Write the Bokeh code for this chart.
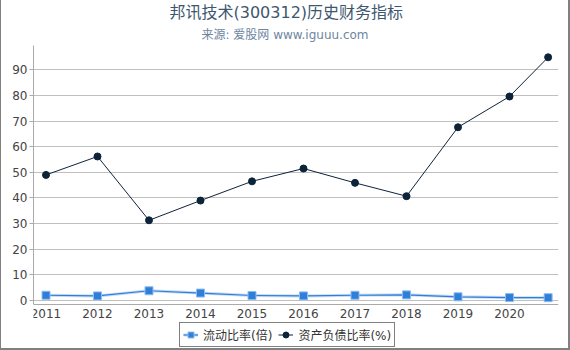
from bokeh.plotting import figure
from bokeh.models import Range1d, Legend, LegendItem, Title, FixedTicker
from bokeh.embed import file_html
from bokeh.resources import INLINE

years = [2011, 2012, 2013, 2014, 2015, 2016, 2017, 2018, 2019, 2020, 2020.75]
current_ratio = [2.05, 1.8, 3.8, 2.9, 1.95, 1.8, 2.05, 2.2, 1.45, 1.15, 1.1]
debt_ratio = [49.0, 56.2, 31.3, 39.0, 46.5, 51.5, 45.9, 40.7, 67.6, 79.6, 94.9]
x_ticks = [2011, 2012, 2013, 2014, 2015, 2016, 2017, 2018, 2019, 2020]
y_ticks = [0, 10, 20, 30, 40, 50, 60, 70, 80, 90]
title_text = "邦讯技术(300312)历史财务指标"
subtitle_text = "来源: 爱股网 www.iguuu.com"
series_names = ["流动比率(倍)", "资产负债比率(%)"]

FONT = "DejaVu Sans, Noto Sans CJK SC"

Y_BOTTOM = -1.56      # value at the x-axis line
Y_TOP = 99.5
PX_PER_UNIT = 2.563
Y_START = Y_BOTTOM - 44 / PX_PER_UNIT   # room below the axis for labels + legend

p = figure(frame_width=525, frame_height=303, output_backend="svg", toolbar_location=None,
           title=None,
           x_range=Range1d(2011 - 12.5 / 51.5, 2011 + 512.5 / 51.5),
           y_range=Range1d(Y_START, Y_TOP),
           min_border_left=32, min_border_right=10, min_border_top=0,
           min_border_bottom=0)
p.styles = {"border-left": "1px solid #808080", "border-right": "2px solid #808080",
            "border-bottom": "2px solid #808080"}
p.outline_line_color = None
p.background_fill_color = "white"
p.border_fill_color = "white"

sub = Title(text=subtitle_text, align="left", offset=168, text_font_size="12px",
            text_color="#6D869F", text_font=FONT, text_font_style="normal",
            standoff=8)
main = Title(text=title_text, align="left", offset=136, text_font_size="16px",
             text_color="#3E576F", text_font=FONT, text_font_style="normal",
             standoff=0)
p.add_layout(sub, "above")
p.add_layout(main, "above")

p.xgrid.grid_line_color = None
p.ygrid.grid_line_color = "#C0C0C0"
p.ygrid.ticker = FixedTicker(ticks=y_ticks)

p.xaxis.ticker = FixedTicker(ticks=x_ticks)
p.yaxis.ticker = FixedTicker(ticks=y_ticks)
for ax in (p.xaxis, p.yaxis):
    ax.axis_line_color = "#AAAAAA"
    ax.major_tick_line_color = "#AAAAAA"
    ax.minor_tick_line_color = None
    ax.major_label_text_font_size = "12px"
    ax.major_label_text_color = "#444444"
    ax.major_label_text_font = FONT
p.xaxis.fixed_location = Y_BOTTOM
p.xaxis.major_tick_out = 0
p.xaxis.major_tick_in = 0
p.xaxis.major_label_standoff = 4
p.yaxis.bounds = (Y_BOTTOM, Y_TOP)
p.yaxis.major_tick_out = 4
p.yaxis.major_tick_in = 0
p.yaxis.major_label_standoff = 2

# current ratio (blue)
cr_shadow = p.line(years, current_ratio, line_color="#9cc3ef", line_width=3, line_alpha=0.6)
cr_line = p.line(years, current_ratio, line_color="#2f7ed8", line_width=1.2)
cr_pts = p.scatter(years, current_ratio, marker="square", size=8,
                   fill_color="#2f7ed8", line_color="#8fbcef", line_width=1)

# debt ratio (navy)
dr_line = p.line(years, debt_ratio, line_color="#0d233a", line_width=1)
dr_pts = p.scatter(years, debt_ratio, marker="circle", size=7,
                   fill_color="#0d233a", line_color="#0d233a")

legend = Legend(items=[
    LegendItem(label=series_names[0], renderers=[cr_shadow, cr_line, cr_pts]),
    LegendItem(label=series_names[1], renderers=[dr_line, dr_pts]),
], orientation="horizontal", location=(146, 1))
legend.label_text_font_size = "12px"
legend.label_text_font = FONT
legend.label_text_color = "#333333"
legend.border_line_color = "black"
legend.border_line_width = 1
legend.background_fill_color = "white"
legend.background_fill_alpha = 1
legend.padding = 3
legend.margin = 0
legend.spacing = 6
legend.glyph_width = 15
legend.glyph_height = 15
legend.label_height = 15
legend.label_standoff = 5
p.add_layout(legend, "center")

open("out.html", "w").write(file_html(p, INLINE))
